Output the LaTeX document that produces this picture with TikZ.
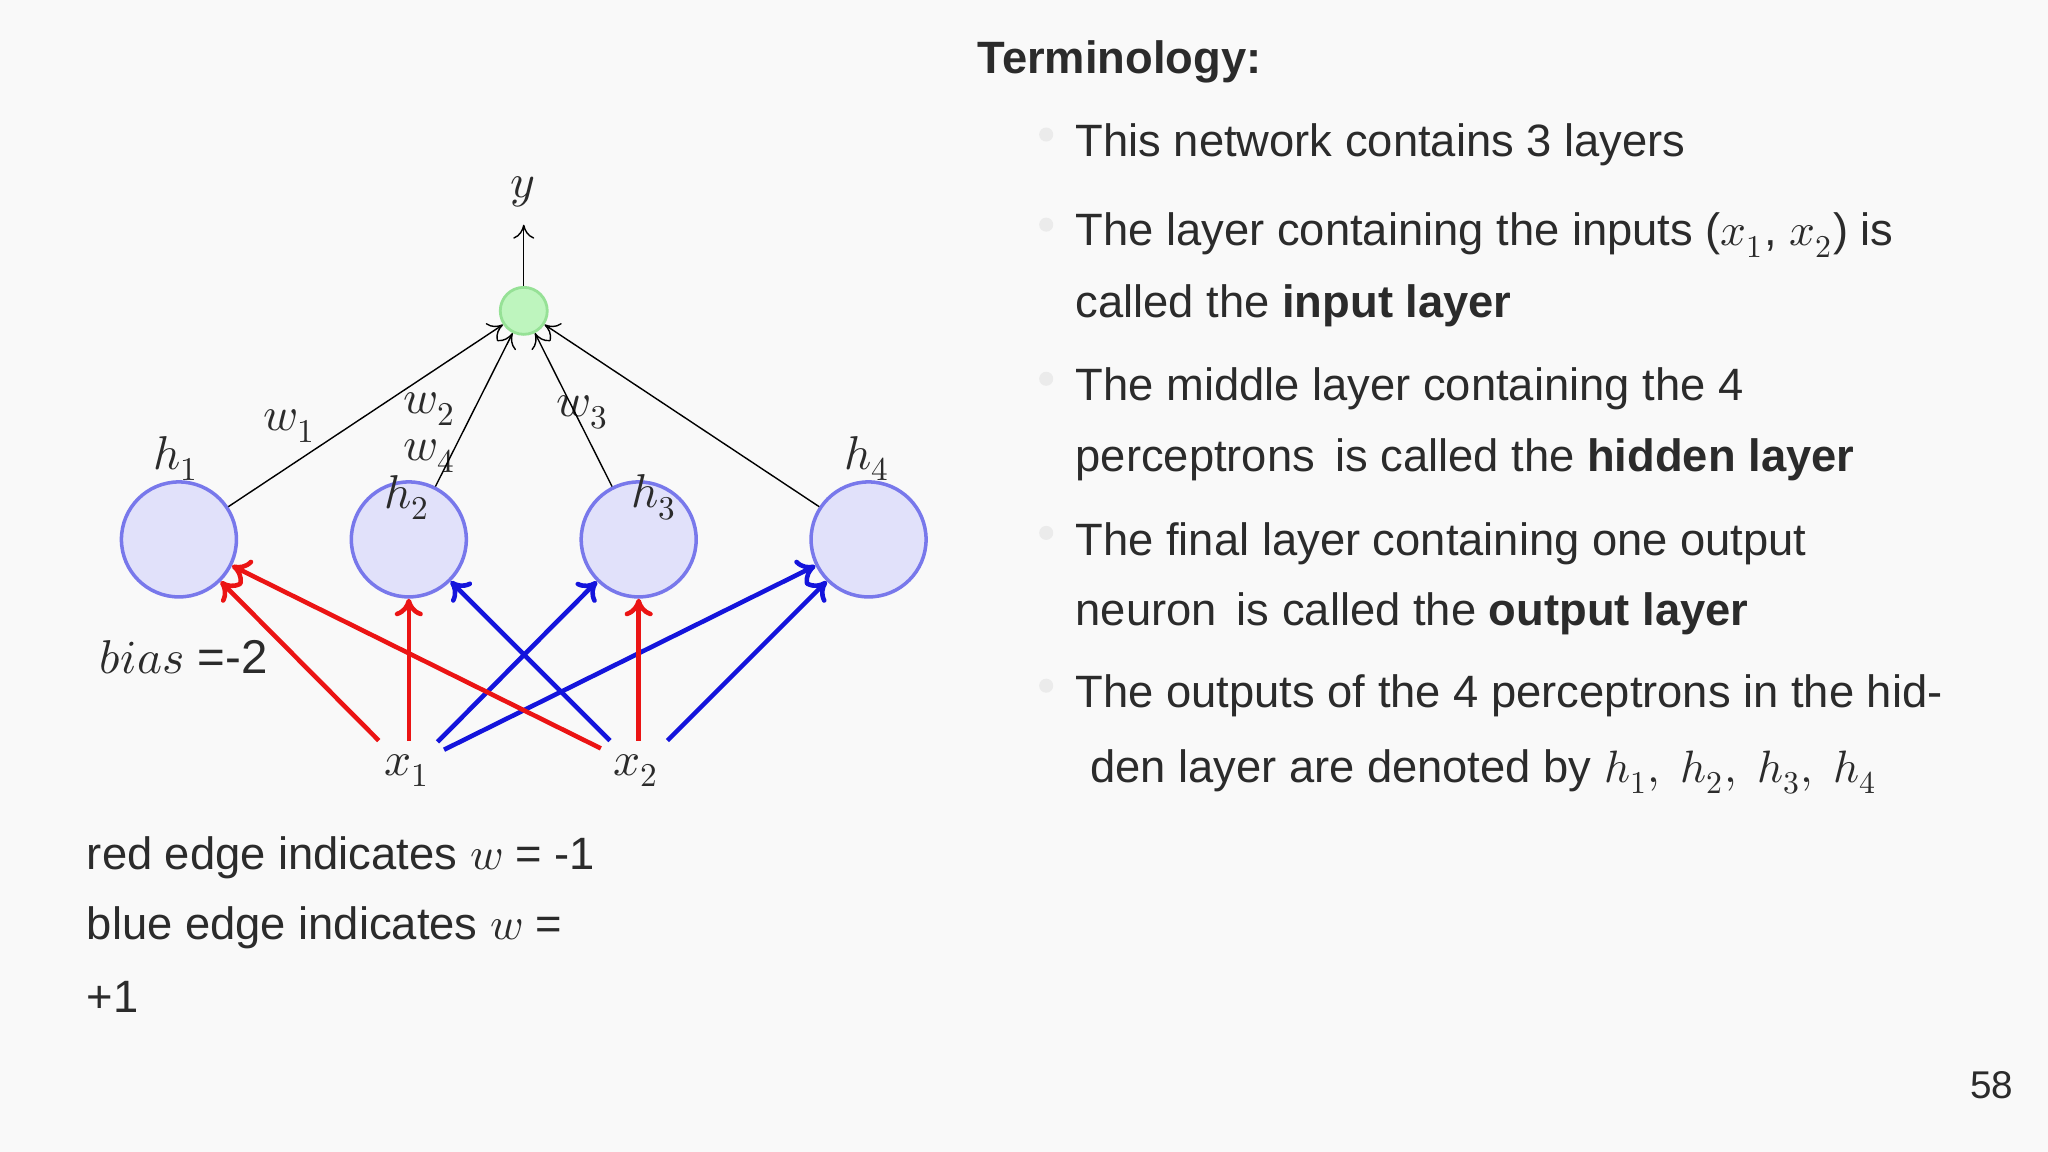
\documentclass[tikz,border=0pt]{standalone}
\usepackage{fontspec}
\setmainfont{Liberation Sans}
\usepackage{unicode-math}
\setmathfont{Latin Modern Math}
\usetikzlibrary{arrows.meta}
\definecolor{txt}{HTML}{2B2B2B}
\definecolor{bg}{HTML}{F9F9F9}
\begin{document}
\begin{tikzpicture}[x=0.013061cm,y=-0.013061cm,
  every node/.style={text=txt},
  hid/.style={circle,draw={rgb,255:red,120;green,120;blue,235},fill={rgb,255:red,225;green,225;blue,250},line width=1pt,minimum size=1.15cm,inner sep=0},
  outn/.style={circle,draw={rgb,255:red,150;green,225;blue,150},fill={rgb,255:red,190;green,245;blue,190},line width=0.8pt,minimum size=0.47cm,inner sep=0},
  lab/.style={font=\fontsize{13.5}{16}\selectfont},
  txtl/.style={anchor=west,font=\fontsize{12.9}{16}\selectfont,inner sep=0},
  blk/.style={draw=black,line width=0.4pt,-{To[length=4pt,width=6pt]}},
  redE/.style={draw={rgb,255:red,235;green,20;blue,20},line width=1.3pt,-{To[length=5pt,width=8pt]}},
  bluE/.style={draw={rgb,255:red,20;green,20;blue,220},line width=1.3pt,-{To[length=5pt,width=8pt]}},
  bul/.style={circle,fill=white!92!black,inner sep=0,minimum size=4pt}]
\fill[bg] (0,0) rectangle (1568,882);
\useasboundingbox (0,0) rectangle (1568,882);
% nodes
\node[outn] (o) at (401,238) {};
\node[lab] (y) at (400,147) {$y$};
\coordinate (ytop) at (401,172);
\node[hid] (h1) at (137,413) {};
\node[hid] (h2) at (313,413) {};
\node[hid] (h3) at (489,413) {};
\node[hid] (h4) at (665,413) {};
\node[lab] (lh1) at (135,351) {$h_1$};
\node[lab] (lh2) at (312,381) {$h_2$};
\node[lab] (lh3) at (501,381) {$h_3$};
\node[lab] (lh4) at (664,351) {$h_4$};
\node[lab] (x1) at (312,590) {$x_1$};
\node[lab] (x2) at (487,590) {$x_2$};
\node[lab] (w1) at (222,326) {$w_1$};
\node[lab] (w2) at (329,313) {$w_2$};
\node[lab] (w4) at (329,349) {$w_4$};
\node[lab] (w3) at (446,316) {$w_3$};
\node[lab,anchor=west,inner sep=0] (bias) at (76,503) {$bias$ =-2};
% connectors
\draw[blk] (o) -- (ytop);
\foreach \h in {h1,h2,h3,h4} \draw[blk] (\h) -- (o);
\coordinate (a1) at (290,567); \coordinate (a2) at (313,567);
\coordinate (a3) at (335,568); \coordinate (a4) at (340,574);
\coordinate (b1) at (460,573); \coordinate (b2) at (467,567);
\coordinate (b3) at (489,567); \coordinate (b4) at (511,567);
\draw[redE] (a1) -- (h1); \draw[redE] (a2) -- (h2);
\draw[bluE] (a3) -- (h3); \draw[bluE] (a4) -- (h4);
\draw[redE] (b1) -- (h1); \draw[bluE] (b2) -- (h2);
\draw[redE] (b3) -- (h3); \draw[bluE] (b4) -- (h4);
% left text
\node[txtl] (t1) at (66,657) {red edge indicates $w$ = -1};
\node[txtl] (t2) at (66,710) {blue edge indicates $w$ =};
\node[txtl] (t3) at (66,763) {+1};
% right text
\node[txtl,font=\fontsize{12.9}{16}\selectfont\bfseries] (term) at (748,47) {Terminology:};
\foreach \yy in {103,172,290,408,525} \node[bul] at (801,\yy) {};
\node[txtl] (r1) at (823,111) {This network contains 3 layers};
\node[txtl] (r2) at (823,180) {The layer containing the inputs ($x_1$, $x_2$) is};
\node[txtl] (r3) at (823,234) {called the \textbf{input layer}};
\node[txtl] (r4) at (823,298) {The middle layer containing the 4};
\node[txtl] (r5) at (823,352) {perceptrons\, is called the \textbf{hidden layer}};
\node[txtl] (r6) at (823,416) {The final layer containing one output};
\node[txtl] (r7) at (823,470) {neuron\, is called the \textbf{output layer}};
\node[txtl] (r8) at (823,533) {The outputs of the 4 perceptrons in the hid-};
\node[txtl] (r9) at (834,591) {den layer are denoted by $h_1,\ h_2,\ h_3,\ h_4$};
\node[txtl,font=\fontsize{11}{13}\selectfont] (pg) at (1508,831) {58};
\end{tikzpicture}
\end{document}
